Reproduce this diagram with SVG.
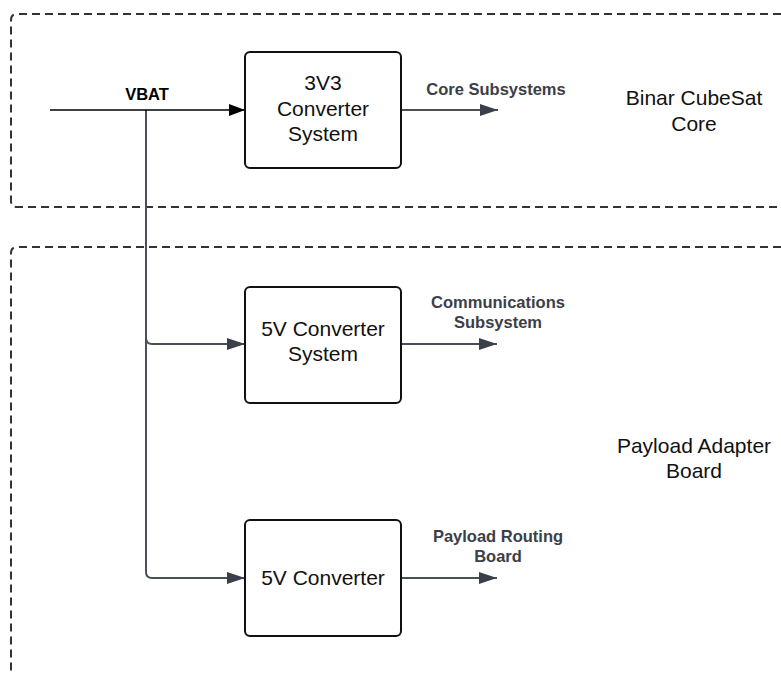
<svg xmlns="http://www.w3.org/2000/svg" width="781" height="673" viewBox="0 0 781 673">
  <defs>
    <marker id="arrowBlack" markerWidth="16" markerHeight="12" refX="16" refY="6" orient="auto" markerUnits="userSpaceOnUse">
      <path d="M0,0 L16,6 L0,12 Z" fill="#000"/>
    </marker>
    <marker id="arrowGrey" markerWidth="18" markerHeight="12" refX="18" refY="6" orient="auto" markerUnits="userSpaceOnUse">
      <path d="M0,0 L18,6 L0,12 Z" fill="#3a3f4a"/>
    </marker>
    <style>
      .zone { fill: none; stroke: #333; stroke-width: 2; stroke-dasharray: 8 5; }
      .box { fill: #fff; stroke: #111; stroke-width: 2; }
      .boxText { font-family: "Liberation Sans", Arial, sans-serif; font-size: 21px; fill: #111; text-anchor: middle; }
      .zoneText { font-family: "Liberation Sans", Arial, sans-serif; font-size: 21px; fill: #111; text-anchor: middle; }
      .label { font-family: "Liberation Sans", Arial, sans-serif; font-size: 16.5px; font-weight: bold; fill: #3c4046; text-anchor: middle; }
      .wire { fill: none; stroke: #4b5058; stroke-width: 2; }
    </style>
  </defs>

  <rect width="781" height="673" fill="#fff"/>

  <!-- dashed subsystem zones -->
  <g id="zone-core">
    <path class="zone" d="M781,14 H17 Q11,14 11,20 V201 Q11,207 17,207 H781"/>
    <text class="zoneText" x="694" y="105">Binar CubeSat</text>
    <text class="zoneText" x="694" y="131">Core</text>
  </g>
  <g id="zone-payload">
    <path class="zone" d="M781,247 H17 Q11,247 11,253 V673"/>
    <text class="zoneText" x="694" y="453">Payload Adapter</text>
    <text class="zoneText" x="694" y="478">Board</text>
  </g>

  <!-- connectors -->
  <g id="connectors">
    <path class="wire" d="M146,110 V338 Q146,344 152,344 H245" marker-end="url(#arrowGrey)"/>
    <path class="wire" d="M146,110 V572 Q146,578 152,578 H245" marker-end="url(#arrowGrey)"/>
    <path d="M50,110 H245" fill="none" stroke="#000" stroke-width="1.5" marker-end="url(#arrowBlack)"/>
    <path class="wire" d="M401,110 H498" marker-end="url(#arrowGrey)"/>
    <path class="wire" d="M401,344 H497" marker-end="url(#arrowGrey)"/>
    <path class="wire" d="M401,578 H497" marker-end="url(#arrowGrey)"/>
    <text x="147" y="100" font-family="Liberation Sans, Arial, sans-serif" font-size="16.5" font-weight="bold" fill="#000" text-anchor="middle">VBAT</text>
    <text class="label" x="496" y="95">Core Subsystems</text>
    <text class="label" x="498" y="308">Communications</text>
    <text class="label" x="498" y="328">Subsystem</text>
    <text class="label" x="498" y="542">Payload Routing</text>
    <text class="label" x="498" y="562">Board</text>
  </g>

  <!-- converter nodes -->
  <g id="node-3v3">
    <rect class="box" x="245" y="52" width="156" height="116" rx="5"/>
    <text class="boxText" x="323" y="90">3V3</text>
    <text class="boxText" x="323" y="116">Converter</text>
    <text class="boxText" x="323" y="141">System</text>
  </g>
  <g id="node-5v-system">
    <rect class="box" x="245" y="287" width="156" height="116" rx="5"/>
    <text class="boxText" x="323" y="336">5V Converter</text>
    <text class="boxText" x="323" y="361">System</text>
  </g>
  <g id="node-5v">
    <rect class="box" x="245" y="520" width="156" height="116" rx="5"/>
    <text class="boxText" x="323" y="585">5V Converter</text>
  </g>
</svg>
